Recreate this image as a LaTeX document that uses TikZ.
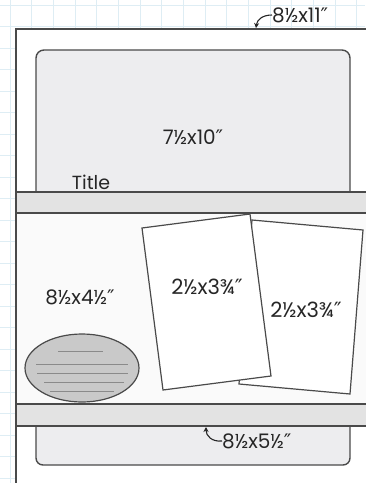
\documentclass[tikz,border=0pt]{standalone}
\usepackage{fontspec}
\setmainfont{Poppins}
\newfontfamily\symfont{DejaVu Sans}
\usetikzlibrary{arrows.meta}
\definecolor{gridc}{HTML}{DEEDF4}
\definecolor{edge}{HTML}{4A4A4A}
\definecolor{boxfill}{HTML}{EDEDEF}
\definecolor{bandfill}{HTML}{E3E3E3}
\definecolor{midfill}{HTML}{FAFAFA}
\definecolor{ovalfill}{HTML}{C9C9C9}
\definecolor{ovalline}{HTML}{8A8A8A}
\definecolor{txt}{HTML}{262626}
\newcommand{\dq}{{\symfont ″}}
\tikzset{
  edgeline/.style={draw=edge, line width=1.4pt},
  lbl/.style={text=txt, font=\fontsize{20}{22}\selectfont, inner sep=0pt},
  pointer/.style={draw=txt, line width=1.1pt, -{Stealth[length=5pt,width=5pt]}},
  ovalrule/.style={draw=ovalline, line width=1pt}
}
\begin{document}
\begin{tikzpicture}[x=1pt,y=-1pt]
\useasboundingbox (0,0) rectangle (365,483);
% grid background
\fill[white] (0,0) rectangle (365,483);
\foreach \gx in {10,31.7,53.3,75,96.7,118.3,140,161.7,183.3,205,226.7,248.3,270,291.7,313.3,335,356.7}
  \draw[gridc, line width=0.6pt] (\gx,0) -- (\gx,483);
\foreach \gy in {5,26.5,48,69.5,91,112.5,134,155.5,177,198.5,220,241.5,263,284.5,306,327.5,349,370.5,392,413.5,435,456.5,478}
  \draw[gridc, line width=0.6pt] (0,\gy) -- (365,\gy);
% page
\fill[white] (16,29) rectangle (366,484);
\draw[edgeline] (366,29) -- (16,29) -- (16,484);
% top box 7.5x10
\draw[edgeline, fill=boxfill, rounded corners=8pt] (36,200) -- (36,50) -- (350,50) -- (350,200);
% middle section
\fill[midfill] (16,213) rectangle (366,404);
% bottom box
\draw[edgeline, fill=boxfill, rounded corners=7pt] (36,420) -- (36,465) -- (350,465) -- (350,420);
% bands
\fill[bandfill] (16,192) rectangle (366,213);
\draw[edgeline] (16,192) -- (366,192);
\draw[edgeline] (16,213) -- (366,213);
\fill[bandfill] (16,404) rectangle (366,426);
\draw[edgeline] (16,404) -- (366,404);
\draw[edgeline] (16,426) -- (366,426);
\draw[edgeline] (16,29) -- (16,484);
% oval
\draw[draw=edge, line width=1.2pt, fill=ovalfill] (82,368) ellipse [x radius=57, y radius=34];
\draw[ovalrule] (58,351) -- (103,351);
\draw[ovalrule] (36,364) -- (128,364);
\draw[ovalrule] (37,373) -- (128,373);
\draw[ovalrule] (44,382) -- (124,382);
\draw[ovalrule] (50,391) -- (114,391);
% card 2 (behind)
\draw[draw=edge, line width=1.2pt, fill=white] (252,220) -- (363,230) -- (350,394) -- (239,384) -- cycle;
% card 1 (front)
\draw[draw=edge, line width=1.2pt, fill=white] (142,228) -- (250,214) -- (271,376) -- (163,390) -- cycle;
% labels
\node[lbl] (big) at (193,137) {7½x10\dq};
\node[lbl, font=\fontsize{19}{21}\selectfont] (title) at (91,182) {Title};
\node[lbl] (half) at (80,297) {8½x4½\dq};
\node[lbl, font=\fontsize{21}{23}\selectfont] (cardA) at (207,287) {2½x3¾\dq};
\node[lbl, font=\fontsize{21}{23}\selectfont] (cardB) at (306,310) {2½x3¾\dq};
\node[lbl, anchor=west] (page) at (272,15) {8½x11\dq};
\node[lbl, anchor=west] (low) at (222,441) {8½x5½\dq};
% pointers
\coordinate (pagetop) at (256,28);
\coordinate (bandbot) at (206,427);
\draw[pointer] (page.west) .. controls (262,15) and (257,20) .. (pagetop);
\draw[pointer] (low.west) .. controls (212,442) and (206,436) .. (bandbot);
\end{tikzpicture}
\end{document}
